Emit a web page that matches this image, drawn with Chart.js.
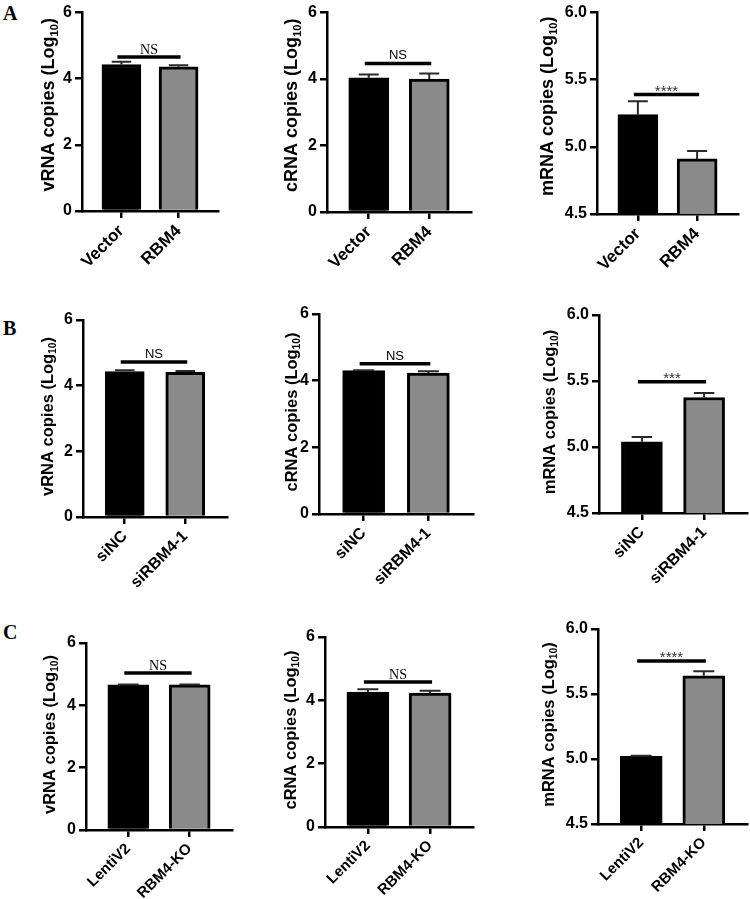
<!DOCTYPE html>
<html>
<head>
<meta charset="utf-8">
<script src="https://cdn.jsdelivr.net/npm/chart.js@4.4.1/dist/chart.umd.min.js"></script>
<style>
  html, body { margin:0; padding:0; background:#fff; }
  body { width:750px; height:899px; position:relative; overflow:hidden; }
  canvas { position:absolute; }
  .lab { position:absolute; font: bold 20px "Liberation Serif", "Times New Roman", serif; line-height:20px; color:#000; }
</style>
</head>
<body>
<div class="lab" style="left:3px; top:3px;">A</div>
<div class="lab" style="left:3px; top:318px;">B</div>
<div class="lab" style="left:3px; top:622px;">C</div>
<script>
// ---------- DATA ----------
const categoriesA = ['Vector', 'RBM4'];
const categoriesB = ['siNC', 'siRBM4-1'];
const categoriesC = ['LentiV2', 'RBM4-KO'];

const yTicksCopies = [0, 2, 4, 6];
const yTicksMRNA = [4.5, 5.0, 5.5, 6.0];

const vRNA_A = [4.43, 4.36];   const vRNA_A_err = [0.08, 0.05];
const cRNA_A = [4.04, 4.00];   const cRNA_A_err = [0.10, 0.17];
const mRNA_A = [5.24, 4.91];   const mRNA_A_err = [0.10, 0.06];

const vRNA_B = [4.43, 4.41];   const vRNA_B_err = [0.04, 0.04];
const cRNA_B = [4.30, 4.23];   const cRNA_B_err = [0.01, 0.05];
const mRNA_B = [5.04, 5.375];  const mRNA_B_err = [0.035, 0.035];

const vRNA_C = [4.66, 4.66];   const vRNA_C_err = [0.01, 0.01];
const cRNA_C = [4.26, 4.23];   const cRNA_C_err = [0.09, 0.07];
const mRNA_C = [5.02, 5.64];   const mRNA_C_err = [0.005, 0.035];

// significance bar: [level, label]
const sigA = [[4.66, 'NS'], [4.47, 'NS'], [5.39, '****']];
const sigB = [[4.72, 'NS'], [4.51, 'NS'], [5.495, '***']];
const sigC = [[5.04, 'NS'], [4.58, 'NS'], [5.754, '****']];

const yTitles = ['vRNA copies', 'cRNA copies', 'mRNA copies'];

// ---------- LAYOUT ----------
const SANS = '"Liberation Sans", Arial, Helvetica, sans-serif';
const SERIF = '"Liberation Serif", "Times New Roman", serif';

const panels = [
  // row A
  {cv:[0,0,245,290],   plot:[82,218,11,211],  cats:categoriesA, vals:vRNA_A, errs:vRNA_A_err, yt:yTicksCopies, title:yTitles[0], sig:sigA[0], sigFont:'serif', bw:39, tOff:34, tDy:-7, row:'A'},
  {cv:[245,0,250,290], plot:[327,471,11,212], cats:categoriesA, vals:cRNA_A, errs:cRNA_A_err, yt:yTicksCopies, title:yTitles[1], sig:sigA[1], sigFont:'sans', bw:40, tOff:36, tDy:-7, row:'A'},
  {cv:[495,0,255,290], plot:[597,738,11,214], cats:categoriesA, vals:mRNA_A, errs:mRNA_A_err, yt:yTicksMRNA, title:yTitles[2], sig:sigA[2], sigFont:'sans', bw:40, tOff:50, tDy:-7, row:'A'},
  // row B
  {cv:[0,290,245,310],   plot:[83,227,320,517],  cats:categoriesB, vals:vRNA_B, errs:vRNA_B_err, yt:yTicksCopies, title:yTitles[0], sig:sigB[0], sigFont:'sans', bw:39, tOff:36, tDy:-2, row:'B'},
  {cv:[245,290,250,310], plot:[319,473,314,514], cats:categoriesB, vals:cRNA_B, errs:cRNA_B_err, yt:yTicksCopies, title:yTitles[1], sig:sigB[1], sigFont:'sans', bw:42, tOff:28, tDy:-2, row:'B'},
  {cv:[495,290,255,310], plot:[599,747,315,513], cats:categoriesB, vals:mRNA_B, errs:mRNA_B_err, yt:yTicksMRNA, title:yTitles[2], sig:sigB[2], sigFont:'sans', bw:41, tOff:50, tDy:-2, row:'B'},
  // row C
  {cv:[0,600,245,299],   plot:[86,232,643,830],  cats:categoriesC, vals:vRNA_C, errs:vRNA_C_err, yt:yTicksCopies, title:yTitles[0], sig:sigC[0], sigFont:'serif', bw:41, tOff:37, tDy:-2, row:'C'},
  {cv:[245,600,250,299], plot:[325,473,637,827], cats:categoriesC, vals:cRNA_C, errs:cRNA_C_err, yt:yTicksCopies, title:yTitles[1], sig:sigC[1], sigFont:'serif', bw:42, tOff:35, tDy:-2, row:'C'},
  {cv:[495,600,255,299], plot:[598,747,629,824], cats:categoriesC, vals:mRNA_C, errs:mRNA_C_err, yt:yTicksMRNA, title:yTitles[2], sig:sigC[2], sigFont:'sans', bw:42, tOff:50, tDy:-2, row:'C'},
];

const fontSizes = { A:{title:18, tick:16, xl:17}, B:{title:16.5, tick:16, xl:16}, C:{title:16.5, tick:16, xl:15} };

function makePanel(p) {
  const [L, T, W, H] = p.cv;
  const [pl, pr, pt, pb] = p.plot;
  const fs = fontSizes[p.row];
  const canvas = document.createElement('canvas');
  canvas.width = W; canvas.height = H;
  canvas.style.left = L + 'px'; canvas.style.top = T + 'px';
  canvas.style.width = W + 'px'; canvas.style.height = H + 'px';
  document.body.appendChild(canvas);

  const yW = pl - L, xH = T + H - pb, padTop = pt - T, padRight = L + W - pr;
  const isM = p.yt[0] !== 0;

  const deco = {
    id: 'deco',
    afterDatasetsDraw(chart) {
      const ctx = chart.ctx, ys = chart.scales.y, a = chart.chartArea;
      const bars = chart.getDatasetMeta(0).data;
      ctx.save();
      // error bars (upper only)
      bars.forEach((bar, i) => {
        const y0 = ys.getPixelForValue(p.vals[i]);
        const y1 = ys.getPixelForValue(p.vals[i] + p.errs[i]);
        const half = p.bw / 4;
        ctx.strokeStyle = '#2a2a2a'; ctx.lineWidth = 2; ctx.lineCap = 'butt';
        ctx.beginPath(); ctx.moveTo(bar.x, y0); ctx.lineTo(bar.x, y1);
        ctx.moveTo(bar.x - half, y1); ctx.lineTo(bar.x + half, y1); ctx.stroke();
      });
      // significance line
      const ly = ys.getPixelForValue(p.sig[0]);
      const x0 = bars[0].x - 4, x1 = bars[1].x + 2;
      ctx.strokeStyle = '#000'; ctx.lineWidth = 3.5;
      ctx.beginPath(); ctx.moveTo(x0, ly); ctx.lineTo(x1, ly); ctx.stroke();
      ctx.textAlign = 'center'; ctx.textBaseline = 'alphabetic';
      const isStar = p.sig[1].indexOf('*') >= 0;
      if (isStar) {
        ctx.fillStyle = '#333'; ctx.font = '15px ' + SANS;
        ctx.fillText(p.sig[1], (x0 + x1) / 2, ly + 1);
      } else if (p.sigFont === 'serif') {
        ctx.fillStyle = '#000'; ctx.font = '14px ' + SERIF;
        ctx.fillText(p.sig[1], (x0 + x1) / 2, ly - 3);
      } else {
        ctx.fillStyle = '#000'; ctx.font = '13px ' + SANS;
        ctx.fillText(p.sig[1], (x0 + x1) / 2, ly - 4);
      }
      // y-axis title with subscript
      const cx = a.left - p.tOff, cy = (a.top + a.bottom) / 2 + p.tDy;
      ctx.translate(cx, cy); ctx.rotate(-Math.PI / 2);
      const f = fs.title;
      const main = p.title + ' (Log';
      ctx.textAlign = 'left'; ctx.fillStyle = '#000';
      ctx.font = 'bold ' + f + 'px ' + SANS; const w1 = ctx.measureText(main).width;
      ctx.font = 'bold ' + (f * 0.62) + 'px ' + SANS; const w2 = ctx.measureText('10').width;
      ctx.font = 'bold ' + f + 'px ' + SANS; const w3 = ctx.measureText(')').width;
      let x = -(w1 + w2 + w3) / 2; const base = f * 0.36;
      ctx.fillText(main, x, base); x += w1;
      ctx.font = 'bold ' + (f * 0.62) + 'px ' + SANS; ctx.fillText('10', x, base + f * 0.18); x += w2;
      ctx.font = 'bold ' + f + 'px ' + SANS; ctx.fillText(')', x, base);
      ctx.restore();
    }
  };

  new Chart(canvas, {
    type: 'bar',
    data: {
      datasets: [{
        data: p.vals.map((v, i) => ({ x: i + 1, y: v })),
        backgroundColor: ['#000000', '#8a8a8a'],
        borderColor: '#000000',
        borderWidth: 3,
        barThickness: p.bw
      }]
    },
    options: {
      responsive: false, animation: false, devicePixelRatio: 1,
      layout: { padding: { top: padTop, right: padRight, left: 0, bottom: 0 } },
      plugins: { legend: { display: false }, tooltip: { enabled: false }, title: { display: false } },
      scales: {
        x: {
          type: 'linear', min: 0.31, max: 2.69, bounds: 'data', offset: false,
          afterBuildTicks: s => { s.ticks = [{ value: 1 }, { value: 2 }]; },
          afterFit: s => { s.height = xH; },
          grid: { offset: false, drawOnChartArea: false, drawTicks: true, tickLength: 7, lineWidth: 2.5, color: '#000' },
          border: { display: true, width: 2.5, color: '#000' },
          ticks: { autoSkip: false, minRotation: 45, maxRotation: 45, padding: 3, color: '#000',
                   font: { family: SANS, size: fs.xl, weight: 'bold' },
                   callback: v => p.cats[Math.round(v) - 1] }
        },
        y: {
          min: p.yt[0], max: p.yt[p.yt.length - 1],
          afterBuildTicks: s => { s.ticks = p.yt.map(v => ({ value: v })); },
          afterFit: s => { s.width = yW; },
          grid: { drawOnChartArea: false, drawTicks: true, tickLength: 7, lineWidth: 2.5, color: '#000' },
          border: { display: true, width: 2.5, color: '#000' },
          ticks: { padding: 3, color: '#000', font: { family: SANS, size: fs.tick, weight: 'bold' },
                   callback: v => isM ? Number(v).toFixed(1) : String(v) }
        }
      }
    },
    plugins: [deco]
  });
}

function start() { panels.forEach(makePanel); }
if (document.fonts && document.fonts.load) {
  Promise.all([
    document.fonts.load('bold 16px "Liberation Sans"'),
    document.fonts.load('16px "Liberation Sans"'),
    document.fonts.load('14px "Liberation Serif"')
  ]).then(start, start);
} else { start(); }
</script>
</body>
</html>
